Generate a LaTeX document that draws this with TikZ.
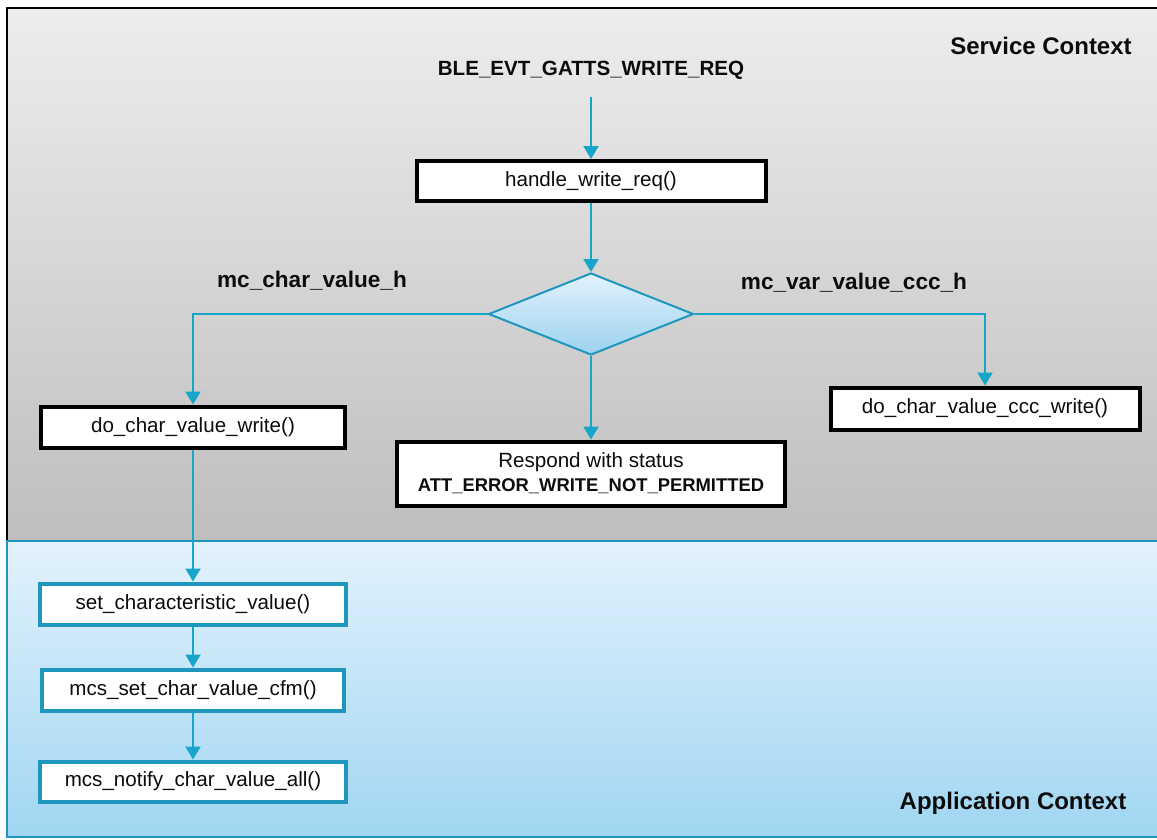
\documentclass[tikz,border=0pt]{standalone}
\usepackage{fontspec}
\setmainfont{Liberation Sans}
\usetikzlibrary{shapes.geometric,arrows.meta}
\definecolor{flow}{RGB}{24,165,202}
\definecolor{flowedge}{RGB}{30,150,190}
\definecolor{ink}{RGB}{12,12,12}
\definecolor{svctop}{RGB}{237,237,237}
\definecolor{svcbot}{RGB}{190,190,190}
\definecolor{apptop}{RGB}{227,242,252}
\definecolor{appbot}{RGB}{160,214,242}
\definecolor{diatop}{RGB}{226,242,252}
\definecolor{diabot}{RGB}{155,210,240}
\tikzset{
  arr/.style={draw=flow, line width=2.2pt, -{Triangle[width=15pt,length=13pt]}},
  fbox/.style={rectangle, draw=black, line width=4pt, fill=white, inner sep=0pt,
               text=ink, font=\fontsize{20.6}{25}\selectfont},
  abox/.style={fbox, draw=flowedge},
  lbl/.style={text=ink, inner sep=0pt, font=\fontsize{20.6}{25}\selectfont\bfseries},
  ctx/.style={text=ink, inner sep=0pt, font=\fontsize{24}{28}\selectfont\bfseries}
}
\begin{document}
\begin{tikzpicture}[x=1pt,y=-1pt]
\useasboundingbox (0,0) rectangle (1157,839);
\clip (0,0) rectangle (1157,839);
\fill[white] (0,0) rectangle (1157,839);

% context panels
\shade[top color=svctop, bottom color=svcbot] (7,8) rectangle (1162,541);
\draw[black, line width=2.5pt] (7,541) -- (7,8) -- (1162,8);
\shade[top color=apptop, bottom color=appbot] (7,541) rectangle (1162,837);
\draw[flowedge, line width=2pt] (1162,541) -- (7,541) -- (7,837) -- (1162,837);

\node[ctx] (svc) at (1041,46) {Service Context};
\node[ctx] (app) at (1013,803) {Application Context};

% event and handler
\node[lbl] (evt) at (591,70) {BLE\_EVT\_GATTS\_WRITE\_REQ};
\coordinate (evtout) at (591,97);
\node[fbox, minimum width=349pt, minimum height=40pt] (hwr) at (591,181) {handle\_write\_req()};

% decision
\node[diamond, draw=flowedge, line width=2pt, top color=diatop, bottom color=diabot,
      inner sep=0pt, minimum width=205pt, minimum height=82pt] (dia) at (591,314) {};
\node[lbl, font=\fontsize{22.6}{26}\selectfont\bfseries] (lh) at (312,281) {mc\_char\_value\_h};
\node[lbl, font=\fontsize{22.6}{26}\selectfont\bfseries] (rh) at (854,283) {mc\_var\_value\_ccc\_h};

% outcomes in the service context
\node[fbox, minimum width=304pt, minimum height=41pt] (dcw) at (193,427) {do\_char\_value\_write()};
\node[fbox, minimum width=309pt, minimum height=42pt] (dccw) at (985,408.5) {do\_char\_value\_ccc\_write()};
\node[fbox, minimum width=388pt, minimum height=64pt, align=center] (resp) at (591,473.5)
  {Respond with status\\[-1pt]{\fontsize{18.4}{25}\selectfont\bfseries ATT\_ERROR\_WRITE\_NOT\_PERMITTED}};

% application context calls
\node[abox, minimum width=306pt, minimum height=41pt] (scv) at (193,604) {set\_characteristic\_value()};
\node[abox, minimum width=302pt, minimum height=41pt] (cfm) at (193,690) {mcs\_set\_char\_value\_cfm()};
\node[abox, minimum width=306pt, minimum height=40pt] (ntf) at (193,781.5) {mcs\_notify\_char\_value\_all()};

% connectors
\draw[arr] (evtout) -- (hwr.north);
\draw[arr] (hwr.south) -- (dia.north);
\draw[arr] (dia.west) -| (dcw.north);
\draw[arr] (dia.east) -| (dccw.north);
\draw[arr] (dia.south) -- (resp.north);
\draw[arr] (dcw.south) -- (scv.north);
\draw[arr] (scv.south) -- (cfm.north);
\draw[arr] (cfm.south) -- (ntf.north);
\end{tikzpicture}
\end{document}
